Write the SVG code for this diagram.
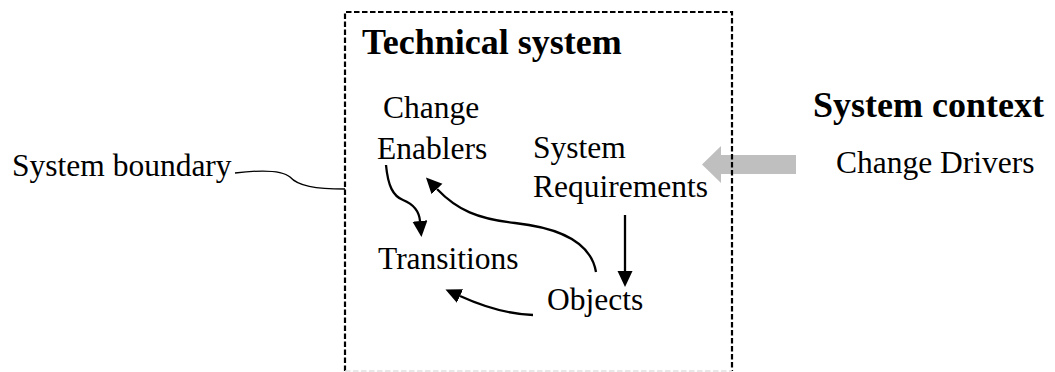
<svg xmlns="http://www.w3.org/2000/svg" width="1055" height="372" viewBox="0 0 1055 372">
<style>
text{font-family:"Liberation Serif","Times New Roman",serif;fill:#000}
.t{font-size:31.5px}
.b{font-size:36px;font-weight:bold}
.c{fill:none;stroke:#000;stroke-width:2.3}
</style>
<defs>
<marker id="ah" markerUnits="userSpaceOnUse" markerWidth="18" markerHeight="16" refX="0" refY="7.5" orient="auto">
<path d="M0,0 L16,7.5 L0,15 Z" fill="#000"/>
</marker>
</defs>
<rect width="1055" height="372" fill="#fff"/>
<g id="drivers-arrow">
<path d="M796,155 H721 V146 L702,164.5 L721,183 V174 H796 Z" fill="#bfbfbf"/>
</g>
<g id="technical-system">
<path d="M345,371 V12 H732 V371" fill="none" stroke="#000" stroke-width="2.2" stroke-dasharray="5.5 2.5"/>
<line x1="345" y1="371" x2="732" y2="371" stroke="#e0e0e0" stroke-width="1.5" stroke-dasharray="5.5 2.5"/>
<text class="b" x="362" y="54">Technical system</text>
</g>
<g id="system-boundary">
<text class="t" x="12" y="176">System boundary</text>
</g>
<g id="system-context">
<text class="b" x="813" y="117">System context</text>
<text class="t" x="836" y="173">Change Drivers</text>
</g>
<g id="change-enablers">
<text class="t" x="383" y="118">Change</text>
<text class="t" x="377" y="159">Enablers</text>
</g>
<g id="system-requirements">
<text class="t" x="533" y="158">System</text>
<text class="t" x="533" y="197">Requirements</text>
</g>
<g id="transitions">
<text class="t" x="378" y="269">Transitions</text>
</g>
<g id="objects">
<text class="t" x="547" y="310">Objects</text>
</g>
<g id="connectors">
<path d="M235,173 C260,170 282,170 290,177 C298,186 315,189 345,189" fill="none" stroke="#000" stroke-width="1.3"/>
<path class="c" d="M386,165 C388,186 393,196 403,200 C413,204 419,210 420,221" marker-end="url(#ah)"/>
<path class="c" d="M596,272 C591,242 560,228 515,223 C478,219 457,210 437,189" marker-end="url(#ah)"/>
<path class="c" d="M625,215 L625,271" marker-end="url(#ah)"/>
<path class="c" d="M533,315 C505,314 482,306 460,296" marker-end="url(#ah)"/>
</g>
</svg>
